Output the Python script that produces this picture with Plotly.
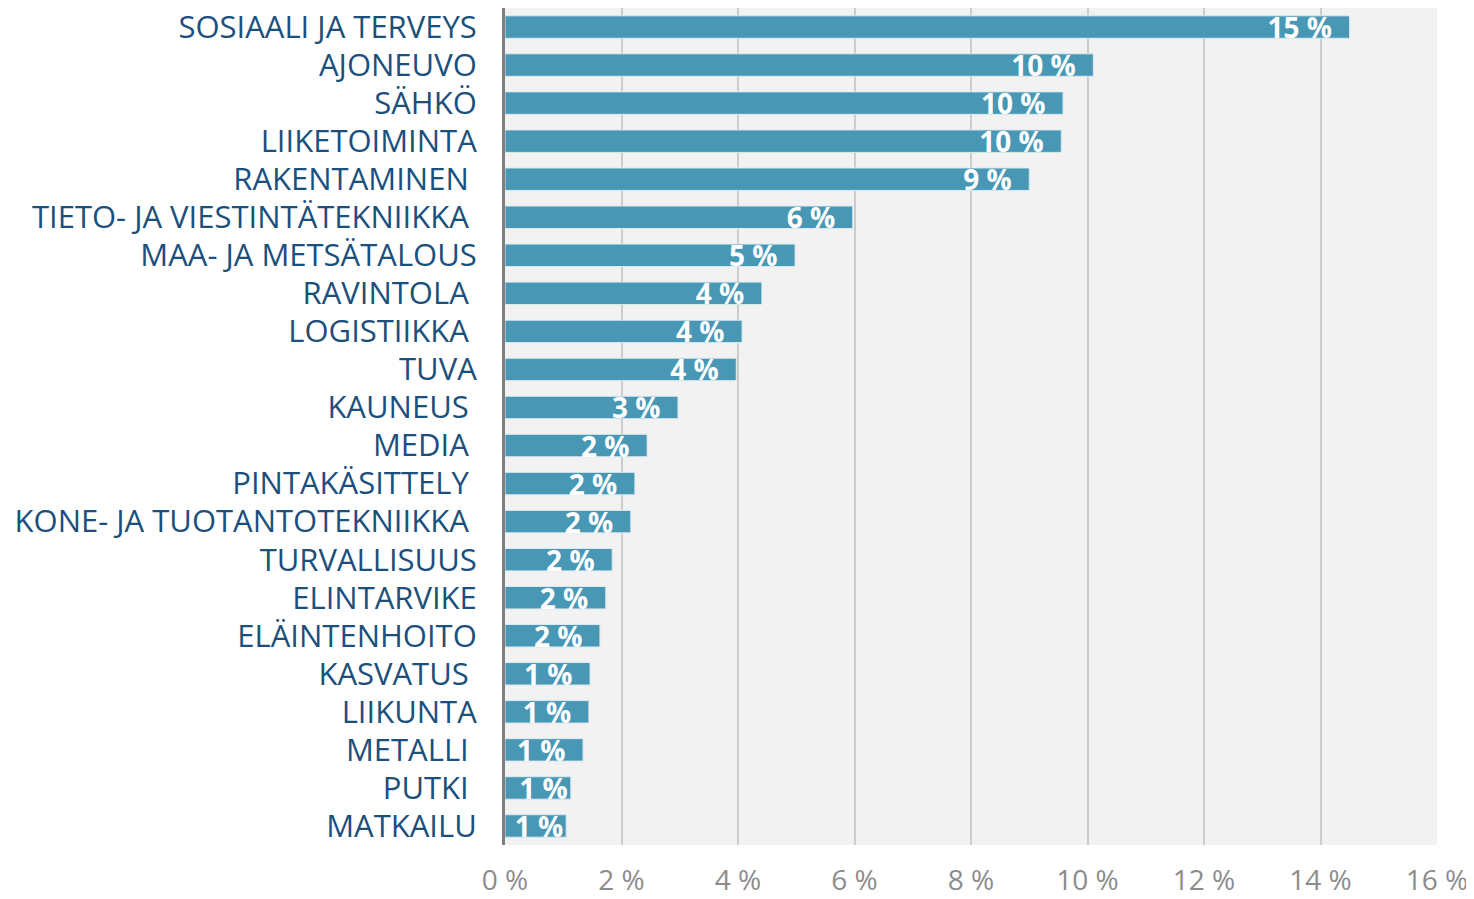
import plotly.graph_objects as go

categories = [
    "SOSIAALI JA TERVEYS", "AJONEUVO", "SÄHKÖ", "LIIKETOIMINTA", "RAKENTAMINEN\u00a0",
    "TIETO- JA VIESTINTÄTEKNIIKKA\u00a0", "MAA- JA METSÄTALOUS", "RAVINTOLA\u00a0", "LOGISTIIKKA\u00a0",
    "TUVA", "KAUNEUS\u00a0", "MEDIA\u00a0", "PINTAKÄSITTELY\u00a0", "KONE- JA TUOTANTOTEKNIIKKA\u00a0",
    "TURVALLISUUS", "ELINTARVIKE", "ELÄINTENHOITO", "KASVATUS\u00a0", "LIIKUNTA", "METALLI\u00a0",
    "PUTKI\u00a0", "MATKAILU",
]
values = [14.5, 10.1, 9.58, 9.55, 9.0, 5.97, 4.98, 4.41, 4.07, 3.97, 2.97, 2.44, 2.23, 2.16,
          1.84, 1.73, 1.63, 1.46, 1.44, 1.34, 1.13, 1.05]
labels = ["15 %", "10 %", "10 %", "10 %", "9 %", "6 %", "5 %", "4 %", "4 %", "4 %", "3 %", "2 %",
          "2 %", "2 %", "2 %", "2 %", "2 %", "1 %", "1 %", "1 %", "1 %", "1 %"]
tick_vals = [0, 2, 4, 6, 8, 10, 12, 14, 16]
tick_text = ["0 %", "2 %", "4 %", "6 %", "8 %", "10 %", "12 %", "14 %", "16 %"]

# label padding (style): bars too short for the padded label get no padding
label_text = [t + ("\u00a0\u00a0" if v > 1.3 else "") for t, v in zip(labels, values)]

fig = go.Figure()
fig.add_trace(go.Bar(
    x=values, y=categories, orientation="h",
    marker=dict(color="#4797b5", line=dict(color="#dceaf0", width=1)),
    text=label_text,
    textposition="inside", insidetextanchor="end", constraintext="none",
    textfont=dict(family="Open Sans", size=28, color="white", weight="bold"),
    cliponaxis=False,
))

fig.update_layout(
    width=1466, height=891,
    margin=dict(l=497, r=37, t=0, b=54, autoexpand=False),
    paper_bgcolor="white", plot_bgcolor="#f2f2f2",
    bargap=0.41, showlegend=False,
    xaxis=dict(
        range=[0, 16], tickvals=tick_vals, ticktext=tick_text,
        showgrid=True, gridcolor="#cccccc", gridwidth=2, zeroline=False,
        ticks="outside", ticklen=10, tickcolor="rgba(0,0,0,0)",
        tickfont=dict(family="Open Sans", size=28, color="#8c8c8c"),
        showline=False, automargin=False,
    ),
    yaxis=dict(
        categoryorder="array", categoryarray=categories, autorange="reversed",
        showline=True, linecolor="#7f7f7f", linewidth=3,
        ticks="outside", ticklen=19, tickcolor="rgba(0,0,0,0)",
        tickfont=dict(family="Open Sans", size=31, color="#1b4f7c"),
        showgrid=False, automargin=False,
    ),
)

fig.write_html("out.html")
